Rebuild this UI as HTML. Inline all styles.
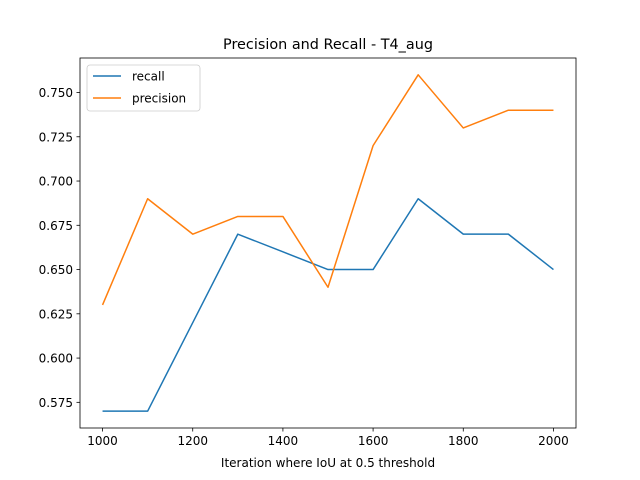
<!DOCTYPE html>
<html><head><meta charset="utf-8"><style>
body{margin:0;background:#fff;}
svg{display:block;font-family:"DejaVu Sans","Liberation Sans",sans-serif;}
</style></head><body>
<svg id="chart" width="640" height="480" viewBox="0 0 640 480">
<rect width="640" height="480" fill="#fff"/>
<text x="328" y="49" font-size="14.4" text-anchor="middle">Precision and Recall - T4_aug</text>
<g id="ticks"></g>
<g id="lines"></g>
<rect x="80" y="58" width="496" height="370" fill="none" stroke="#000" stroke-width="0.8"/>
<text x="328" y="467" font-size="12" text-anchor="middle">Iteration where IoU at 0.5 threshold</text>
<g>
<rect x="87" y="65" width="113" height="46" rx="3" fill="#fff" fill-opacity="0.8" stroke="#ccc" stroke-width="0.8"/>
<line x1="93" y1="76" x2="121" y2="76" stroke="#1f77b4" stroke-width="1.5"/>
<text x="132" y="80.5" font-size="12">recall</text>
<line x1="93" y1="98" x2="121" y2="98" stroke="#ff7f0e" stroke-width="1.5"/>
<text x="132" y="102.5" font-size="12">precision</text>
</g>
</svg>
<script>
const iterations=[1000,1100,1200,1300,1400,1500,1600,1700,1800,1900,2000];
const recall=[0.57,0.57,0.62,0.67,0.66,0.65,0.65,0.69,0.67,0.67,0.65];
const precision=[0.63,0.69,0.67,0.68,0.68,0.64,0.72,0.76,0.73,0.74,0.74];
const xTicks=[1000,1200,1400,1600,1800,2000];
const yTicks=[0.575,0.600,0.625,0.650,0.675,0.700,0.725,0.750];

const NS="http://www.w3.org/2000/svg";
const L=80,R=576,T=58,B=428;
const allY=recall.concat(precision);
const xmin=Math.min(...iterations),xmax=Math.max(...iterations);
const ymin=Math.min(...allY),ymax=Math.max(...allY);
const xm=(xmax-xmin)*0.05,ym=(ymax-ymin)*0.05;
const sx=v=>L+(v-(xmin-xm))/((xmax+xm)-(xmin-xm))*(R-L);
const sy=v=>B-(v-(ymin-ym))/((ymax+ym)-(ymin-ym))*(B-T);
const tg=document.getElementById('ticks'),lg=document.getElementById('lines');
function mk(tag,attrs,parent){const e=document.createElementNS(NS,tag);for(const k in attrs)e.setAttribute(k,attrs[k]);parent.appendChild(e);return e;}
xTicks.forEach(v=>{
  const l=mk('line',{x1:sx(v),x2:sx(v),y1:B,y2:B+3.5,stroke:'#000','stroke-width':0.8},tg);
  
  
  const t=mk('text',{x:sx(v),y:B+17,'font-size':12,'text-anchor':'middle'},tg);
  t.textContent=v;
  
  
});
yTicks.forEach(v=>{
  const l=mk('line',{x1:L-3.5,x2:L,y1:sy(v),y2:sy(v),stroke:'#000','stroke-width':0.8},tg);
  
  
  const t=mk('text',{x:L-7,y:sy(v)+4.5,'font-size':12,'text-anchor':'end'},tg);
  t.textContent=v.toFixed(3);
  
  
});
function series(vals,color,name){
  const p=mk('polyline',{points:vals.map((v,i)=>sx(iterations[i])+','+sy(v)).join(' '),fill:'none',stroke:color,'stroke-width':1.5,'stroke-linejoin':'round'},lg);
  
  
}
series(recall,'#1f77b4','recall-line');
series(precision,'#ff7f0e','precision-line');
</script>
</body></html>
